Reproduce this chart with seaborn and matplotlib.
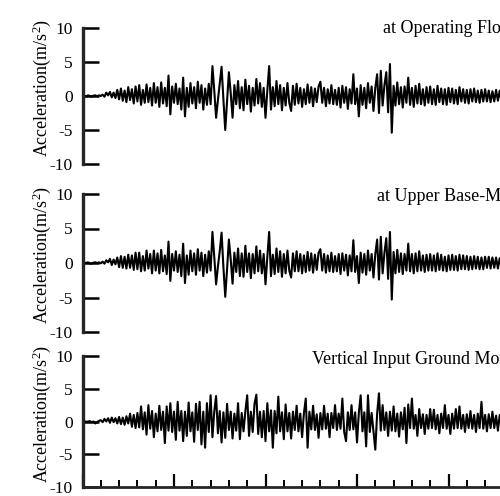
import numpy as np
import pandas as pd
import matplotlib
matplotlib.use("Agg")
import matplotlib.pyplot as plt
import seaborn as sns
from matplotlib.ticker import MultipleLocator

dt = 0.2
operating_floor = [
    0.0, 0.05, -0.05, 0.1, 0.0, -0.1, 0.05, 0.1, -0.05, 0.1,
    0.0, 0.2, -0.1, 0.5, 0.1, 0.6, -0.2, 0.5, -0.3, 0.9,
    -0.5, 1.1, -0.7, 0.8, -0.9, 1.3, -0.6, 1.0, -1.1, 1.4,
    -0.8, 1.6, -1.3, 0.9, -1.0, 1.7, -0.9, 1.2, -1.4, 1.9,
    -1.0, 1.3, -1.6, 2.0, -1.1, 1.2, -1.5, 3.0, -2.7, 1.4,
    -1.0, 1.8, -1.2, 1.1, -2.0, 2.7, -3.0, 1.2, -1.6, 1.9,
    -1.1, 1.3, -1.8, 2.1, -1.0, 1.6, -2.0, 1.1, -1.3, 1.8,
    -1.2, 4.4, 0.8, -3.2, -0.6, 1.8, 4.3, -0.5, -5.0, -0.8,
    3.5, 0.4, -3.2, 1.6, -1.2, 2.2, -1.8, 1.3, -2.1, 2.4,
    -1.2, 1.5, -2.3, 1.2, -1.4, 2.5, -1.1, 1.9, -1.6, 1.2,
    -3.2, 0.8, 4.4, -2.0, 1.3, -1.5, 2.2, -1.2, 1.6, -2.1,
    1.2, -1.4, 1.9, -1.0, -2.2, 1.5, -1.3, 1.8, -1.1, 1.2,
    -1.6, 1.0, -1.2, 1.7, -1.0, 1.3, -1.5, 1.1, -0.9, 1.4,
    2.1, -1.0, 1.2, -1.5, 1.0, -1.1, 1.6, -1.2, 0.9, -1.3,
    1.2, -1.7, 1.5, -1.0, 1.3, -1.9, 1.0, -1.1, 3.2, -1.2,
    1.1, -3.0, 1.6, -1.3, 1.2, -1.8, 1.9, -1.0, 1.4, -2.2,
    1.2, 3.2, -2.5, 3.7, -1.4, 1.6, 3.5, -2.4, 4.7, -5.4,
    1.5, -1.4, 2.0, -1.2, 1.3, -1.7, 1.4, -1.0, 2.7, -1.3,
    1.2, -1.6, 1.5, -1.1, 1.8, -1.2, 1.0, -1.4, 1.3, -1.0,
    1.4, -1.2, 1.0, -1.3, 1.5, -0.9, 1.1, -1.2, 1.0, -1.3,
    1.2, -0.9, 1.1, -1.1, 0.9, -1.2, 1.3, -0.8, 1.0, -1.0,
    0.9, -1.1, 1.0, -0.8, 1.1, -0.9, 0.8, -1.0, 0.9, -0.8,
    1.0, -0.8, 0.8, -0.9, 0.7, -0.8, 0.9, -0.7, 0.8, -0.8,
]
upper_base_mat = [
    0.0, 0.05, 0.0, 0.1, -0.05, -0.1, 0.05, 0.1, 0.0, 0.1,
    -0.05, 0.2, -0.1, 0.4, 0.1, 0.6, -0.3, 0.5, -0.2, 0.8,
    -0.6, 1.0, -0.7, 0.9, -0.8, 1.2, -0.7, 1.1, -1.0, 1.5,
    -0.9, 1.5, -1.2, 1.0, -1.1, 1.8, -0.8, 1.3, -1.5, 1.8,
    -1.1, 1.4, -1.5, 1.9, -1.2, 1.1, -1.6, 3.1, -2.6, 1.3,
    -1.1, 1.7, -1.3, 1.2, -1.9, 2.8, -2.9, 1.1, -1.7, 1.8,
    -1.2, 1.4, -1.7, 2.0, -1.1, 1.5, -1.9, 1.2, -1.4, 1.7,
    -1.1, 4.5, 0.9, -3.1, -0.5, 1.7, 4.4, -0.6, -4.9, -0.9,
    3.4, 0.5, -3.0, 1.5, -1.3, 2.1, -1.9, 1.4, -2.0, 2.5,
    -1.3, 1.4, -2.2, 1.3, -1.5, 2.4, -1.2, 1.8, -1.5, 1.3,
    -3.1, 0.9, 4.5, -1.9, 1.2, -1.6, 2.1, -1.3, 1.7, -2.0,
    1.3, -1.5, 1.8, -1.1, -2.1, 1.4, -1.2, 1.7, -1.2, 1.3,
    -1.5, 1.1, -1.3, 1.6, -1.1, 1.4, -1.4, 1.2, -1.0, 1.5,
    2.0, -1.1, 1.3, -1.4, 1.1, -1.2, 1.5, -1.3, 1.0, -1.2,
    1.3, -1.6, 1.4, -1.1, 1.2, -1.8, 1.1, -1.2, 3.3, -1.3,
    1.0, -2.9, 1.5, -1.4, 1.3, -1.7, 1.8, -1.1, 1.3, -2.1,
    1.3, 3.4, -2.4, 3.8, -1.5, 1.5, 3.6, -2.3, 4.5, -5.3,
    1.6, -1.5, 1.9, -1.3, 1.4, -1.6, 1.3, -1.1, 2.8, -1.2,
    1.3, -1.5, 1.4, -1.2, 1.7, -1.1, 1.1, -1.3, 1.2, -1.1,
    1.3, -1.1, 1.1, -1.2, 1.4, -1.0, 1.2, -1.1, 0.9, -1.2,
    1.1, -1.0, 1.2, -1.0, 1.0, -1.1, 1.2, -0.9, 1.1, -0.9,
    1.0, -1.0, 0.9, -0.9, 1.0, -0.8, 0.9, -0.9, 0.8, -0.9,
    0.9, -0.7, 0.9, -0.8, 0.8, -0.7, 0.8, -0.8, 0.7, -0.7,
]
vertical_input = [
    0.0, 0.05, -0.05, 0.0, 0.05, -0.1, 0.0, -0.3, -0.1, 0.1,
    0.2, -0.1, 0.4, 0.0, 0.5, -0.2, 0.6, -0.1, 0.5, -0.3,
    0.7, -0.4, 0.6, -0.5, 0.8, -0.3, 1.2, -0.8, 1.0, -1.0,
    1.3, -0.9, 2.3, -1.2, 1.4, -2.0, 2.5, -1.1, 1.6, -2.4,
    1.2, -1.5, 2.4, -1.3, 1.5, -3.3, 2.3, -1.4, 2.8, -1.6,
    1.5, -2.8, 3.0, -1.4, 1.6, -3.0, 1.5, -2.2, 2.9, -1.5,
    1.4, -3.1, 2.7, -1.3, 3.0, -3.5, 1.5, -4.0, 2.8, -1.6,
    4.0, -2.4, 1.5, 3.9, -1.8, 1.6, -3.2, 1.4, -2.5, 2.7,
    -1.3, 1.5, -2.6, 1.2, -1.4, 2.8, -2.7, 1.3, -1.5, 1.6,
    4.0, -2.2, 1.5, -1.6, 2.7, 4.1, -1.9, 1.5, -2.4, 1.6,
    -3.0, 2.8, -1.5, 1.7, -4.0, 1.6, -1.8, 3.8, -1.5, 1.4,
    -2.7, 2.6, -1.5, 1.3, -2.6, 1.5, -1.3, 2.4, -1.5, 1.2,
    -2.4, 1.3, 3.5, -4.0, 1.5, -1.2, 2.4, -1.3, 1.1, -2.5,
    1.3, -1.2, 2.4, -1.1, 1.2, -2.4, 1.3, -1.0, 2.5, -1.3,
    1.2, -1.1, 3.5, -1.6, -3.0, 1.4, -1.3, 2.5, -1.2, 1.4,
    -3.2, 1.3, 4.0, -1.5, 1.4, -3.8, 4.0, -1.6, 1.3, -1.5,
    -4.3, 1.2, 4.3, -1.4, 2.5, -1.3, 1.4, -2.2, 1.5, -1.4,
    2.3, -1.5, 1.2, -2.3, 1.4, -1.2, 2.1, -3.3, 2.6, -1.0,
    3.5, -1.1, 1.0, -2.2, 1.9, -1.0, 1.1, -1.9, 1.0, -1.1,
    1.9, -1.0, 1.8, -1.2, 1.0, -1.8, 1.2, -1.0, 2.5, -1.1,
    1.0, -1.9, 1.2, -1.1, 1.9, -1.0, 2.3, -1.1, 1.0, -1.6,
    1.1, -1.0, 1.6, -1.1, 1.0, -1.6, 1.2, -1.0, 3.0, -1.1,
    1.0, -1.5, 1.1, -1.0, 1.5, -1.0, 0.9, -1.4, 1.0, -0.9,
]
titles = ["at Operating Floor", "at Upper Base-Mat", "Vertical Input Ground Motion"]
ytick_values = [-10, -5, 0, 5, 10]
ytick_labels = ["-10", "-5", "0", "5", "10"]
ylabel_text = r"Acceleration(m/s$^2$)"

# ---- styling ----
sns.set_theme(style="ticks")
plt.rcParams["font.family"] = ["Liberation Serif", "DejaVu Serif"]
plt.rcParams["mathtext.fontset"] = "custom"
plt.rcParams["mathtext.rm"] = "Liberation Serif"
plt.rcParams["mathtext.it"] = "Liberation Serif"
plt.rcParams["mathtext.default"] = "regular"
plt.rcParams["text.color"] = "black"
plt.rcParams["axes.labelcolor"] = "black"
plt.rcParams["xtick.color"] = "black"
plt.rcParams["ytick.color"] = "black"

fig = plt.figure(figsize=(5, 4.96), dpi=100)

W, H = 500.0, 496.0
left_px = 82.5
width_px = 549.0  # 60 s at ~9.15 px/s; axis continues past the crop
panels_px = [(28, 164), (194, 332), (356, 487)]   # (top, bottom) of y-range
title_px = [(383, 33), (377, 201), (312, 364)]   # (x, baseline y)

series = [operating_floor, upper_base_mat, vertical_input]

for k, (vals, (top, bot), title, (tx, ty)) in enumerate(zip(series, panels_px, titles, title_px)):
    ax = fig.add_axes([left_px / W, 1 - bot / H, width_px / W, (bot - top) / H])
    df = pd.DataFrame({"t": np.arange(len(vals)) * dt, "a": vals})
    sns.lineplot(data=df, x="t", y="a", ax=ax, color="black", linewidth=1.5,
                 estimator=None, sort=False)
    ax.set_xlim(0, 60)
    ax.set_ylim(-10, 10)
    ax.set_yticks(ytick_values)
    ax.set_yticklabels(ytick_labels)
    ax.tick_params(axis="y", direction="in", length=11.5, width=1.8,
                   labelsize=12.5, pad=7)
    for s in ("top", "right"):
        ax.spines[s].set_visible(False)
    ax.spines["left"].set_linewidth(2.4)
    ax.set_xlabel("")
    ax.set_ylabel(ylabel_text, fontsize=13)
    ax.yaxis.set_label_coords(-0.053, 0.56)
    if k < 2:
        ax.spines["bottom"].set_visible(False)
        ax.tick_params(axis="x", which="both", bottom=False, labelbottom=False)
    else:
        ax.spines["bottom"].set_linewidth(2.0)
        ax.xaxis.set_major_locator(MultipleLocator(10))
        ax.xaxis.set_minor_locator(MultipleLocator(2))
        ax.tick_params(axis="x", which="major", direction="in", length=9.5,
                       width=1.6, labelbottom=False)
        ax.tick_params(axis="x", which="minor", direction="in", length=5,
                       width=1.4)
    ax.set_facecolor("none")
    fig.text(tx / W, 1 - ty / H, title, fontsize=13, ha="left", va="baseline")

fig.savefig("out.png", dpi=100)
